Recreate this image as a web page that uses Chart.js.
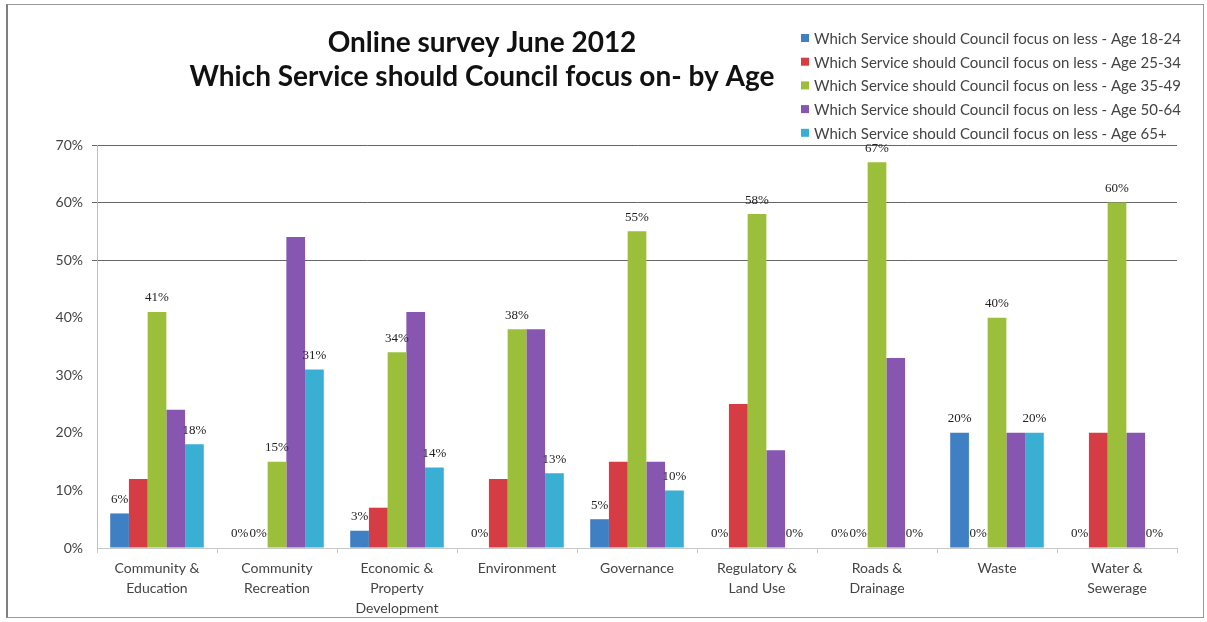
<!DOCTYPE html>
<html>
<head>
<meta charset="utf-8">
<script src="https://cdn.jsdelivr.net/npm/chart.js@4.4.1/dist/chart.umd.min.js"></script>
<style>
  body { margin: 0; background: #fff; }
  #wrap { position: relative; width: 1207px; height: 622px; }
  #frame { position: absolute; left: 6px; top: 4px; width: 1195px; height: 612px; border: 1px solid #9a9a9a; border-left: 2px solid #808080; pointer-events: none; }
</style>
</head>
<body>
<div id="wrap">
  <canvas id="surveyChart"></canvas>
  <div id="frame"></div>
</div>
<script>
const categories = [
    ['Community &', 'Education'], ['Community', 'Recreation'], ['Economic &', 'Property', 'Development'],
    ['Environment'], ['Governance'], ['Regulatory &', 'Land Use'], ['Roads &', 'Drainage'], ['Waste'], ['Water &', 'Sewerage']
];
const titleLines = ['Online survey June 2012', 'Which Service should Council focus on- by Age'];
const seriesLabel = 'Which Service should Council focus on less - Age ';
const ageGroups = ['18-24', '25-34', '35-49', '50-64', '65+'];

// percentages per age group, one value per service
const age18to24 = [6, 0, 3, 0, 5, 0, 0, 20, 0];
const age25to34 = [12, 0, 7, 12, 15, 25, 0, 0, 20];
const age35to49 = [41, 15, 34, 38, 55, 58, 67, 40, 60];
const age50to64 = [24, 54, 41, 38, 15, 17, 33, 20, 20];
const age65plus = [18, 31, 14, 13, 10, 0, 0, 20, 0];

const yTicks = [0, 10, 20, 30, 40, 50, 60, 70];
const seriesColors = ['#3f7fc4', '#d63c43', '#9bbf3b', '#8656b0', '#38afd3'];
// series whose values are printed above the bars (zeros are printed for all)
const labelledSeries = [0, 2, 4];

const seriesValues = [age18to24, age25to34, age35to49, age50to64, age65plus];

// title + legend drawn in the top band, value labels above bars
const headerPlugin = {
    id: 'header',
    afterDraw(chart) {
        const ctx = chart.ctx;
        ctx.save();
        ctx.fillStyle = '#111';
        ctx.textAlign = 'center';
        ctx.textBaseline = 'middle';
        ctx.font = 'bold 28px Lato';
        ctx.fillText(titleLines[0], 482, 43);
        ctx.fillText(titleLines[1], 482, 77);

        ctx.font = '15px Lato';
        ctx.textAlign = 'left';
        chart.data.datasets.forEach((ds, i) => {
            const y = 38 + i * 23.7;
            ctx.fillStyle = ds.backgroundColor;
            ctx.fillRect(801, y - 4, 8, 8);
            ctx.fillStyle = '#444';
            ctx.fillText(ds.label, 814, y + 1);
        });
        ctx.restore();
    },
    afterDatasetsDraw(chart) {
        const ctx = chart.ctx;
        ctx.save();
        ctx.font = '13px "Liberation Serif"';
        ctx.fillStyle = '#222';
        ctx.textAlign = 'center';
        ctx.textBaseline = 'middle';
        chart.data.datasets.forEach((ds, i) => {
            const meta = chart.getDatasetMeta(i);
            meta.data.forEach((bar, j) => {
                const v = ds.data[j];
                if (v === 0) {
                    ctx.fillText('0%', bar.x, bar.y - 14);
                } else if (labelledSeries.includes(i)) {
                    ctx.fillText(v + '%', bar.x, bar.y - 14);
                }
            });
        });
        ctx.restore();
    }
};

new Chart(document.getElementById('surveyChart'), {
    type: 'bar',
    data: {
        labels: categories,
        datasets: seriesValues.map((vals, i) => ({
            label: seriesLabel + ageGroups[i],
            data: vals,
            backgroundColor: seriesColors[i],
            borderWidth: 0,
            barPercentage: 1,
            categoryPercentage: 0.78
        }))
    },
    options: {
        responsive: true,
        maintainAspectRatio: false,
        animation: false,
        layout: { padding: { top: 145, right: 30, left: 0, bottom: 0 } },
        plugins: { legend: { display: false }, title: { display: false }, tooltip: { enabled: false } },
        scales: {
            x: {
                afterFit: (scale) => { scale.height = 74; },
                grid: { drawOnChartArea: false, tickLength: 5, color: '#c8c8c8' },
                border: { color: '#c8c8c8' },
                ticks: { color: '#444', font: { family: 'Lato', size: 14, lineHeight: 1.42 }, padding: 6, maxRotation: 0, autoSkip: false }
            },
            y: {
                min: 0,
                max: 70,
                afterFit: (scale) => { scale.width = 97; },
                afterBuildTicks: (scale) => { scale.ticks = yTicks.map(v => ({ value: v })); },
                grid: {
                    tickLength: 5,
                    color: (c) => (c.tick && c.tick.value >= 50 ? '#666' : 'rgba(0,0,0,0)')
                },
                border: { color: '#bdbdbd' },
                ticks: { color: '#444', font: { family: 'Lato', size: 14 }, padding: 9, callback: (v) => v + '%' }
            }
        }
    },
    plugins: [headerPlugin]
});
</script>
</body>
</html>
